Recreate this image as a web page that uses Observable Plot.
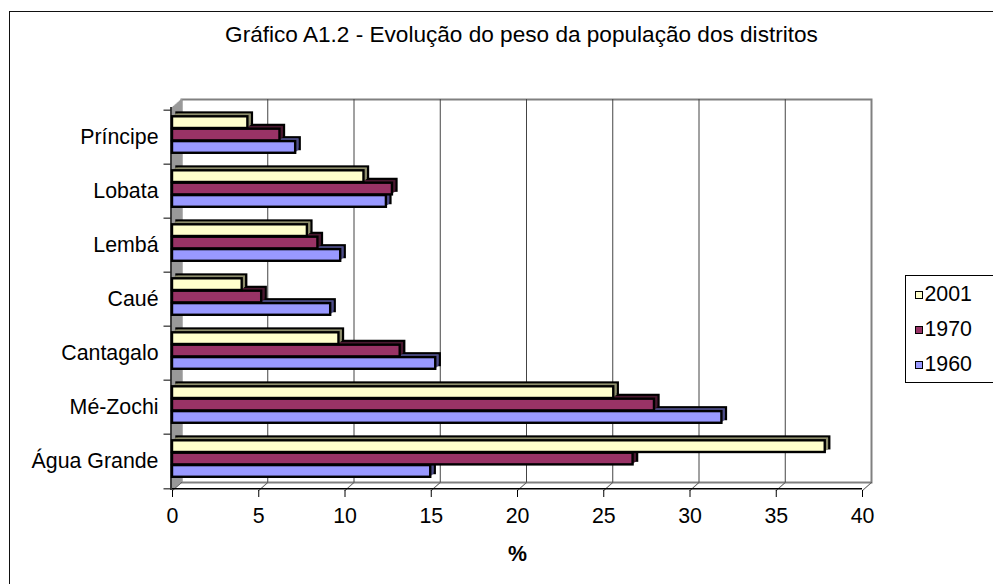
<!DOCTYPE html>
<html><head><meta charset="utf-8">
<script src="https://cdn.jsdelivr.net/npm/d3@7"></script>
<script src="https://cdn.jsdelivr.net/npm/@observablehq/plot@0.6"></script>
<style>
html,body{margin:0;padding:0;background:#fff;}
body{width:993px;height:584px;overflow:hidden;position:relative;font-family:"Liberation Sans",Arial,sans-serif;color:#000;}
#border{position:absolute;left:9px;top:11px;width:1100px;height:700px;border:1.3px solid #111;}
#title{position:absolute;left:0;top:24px;width:1043px;text-align:center;font-size:22.6px;line-height:1;white-space:nowrap;}
#chart{position:absolute;left:0;top:0;}
#legend{position:absolute;left:905px;top:275px;width:120px;height:106px;border:1px solid #000;background:#fff;}
.item{position:absolute;left:9px;height:22px;display:flex;align-items:center;font-size:21.33px;line-height:1;white-space:nowrap;}
.sw{width:8px;height:8px;border:1.5px solid #000;box-sizing:border-box;margin-right:1.5px;}
</style></head>
<body>
<div id="border"></div>
<div id="chart"></div>
<div id="title"></div>
<div id="legend"></div>
<script>
// ---- data ----
const titleText = "Gráfico A1.2 - Evolução do peso da população dos distritos";
const districts = ["Príncipe", "Lobata", "Lembá", "Caué", "Cantagalo", "Mé-Zochi", "Água Grande"];
const years = ["2001", "1970", "1960"];
const values2001 = [4.37, 11.1, 7.82, 4.04, 9.65, 25.58, 37.84];
const values1970 = [6.23, 12.75, 8.43, 5.17, 13.2, 27.94, 26.7];
const values1960 = [7.14, 12.4, 9.75, 9.17, 15.26, 31.85, 14.97];
const xTicks = [0, 5, 10, 15, 20, 25, 30, 35, 40];
const xLabel = "%";

// ---- styles ----
const colors = {"2001": "#FFFFCC", "1970": "#993366", "1960": "#9999FF"};
const sideColors = {"2001": "#8e8e6c", "1970": "#4a1830", "1960": "#4e4e8a"};
const W = 993, H = 584, mL = 172, mR = 131, mT = 107, mB = 94;
const B = (H - mT - mB) / districts.length;
const barTop = 6.3, barStep = 12.4;
const depthX = 4.5, depthY = 3.75;     // bar depth
const wallX = 9, wallY = 8;            // wall depth
const fs = 21.33;
const sw = 2.4;

const series = {"2001": values2001, "1970": values1970, "1960": values1960};
const rows = districts.flatMap((d, i) => years.map(y => ({district: d, year: y, value: series[y][i]})));

const lineShape = {draw(context, l) { context.moveTo(0, 0); context.lineTo(0, -l); }};

const marks = [];
// back wall + gridlines
marks.push(Plot.frame({stroke: "#808080", strokeWidth: 2, dx: wallX, dy: -wallY}));
marks.push(Plot.ruleX(xTicks.slice(1, -1), {stroke: "#444", strokeWidth: 1, dx: wallX, dy: -wallY}));
// left side wall
for (let k = 0; k <= wallX; k++) {
  marks.push(Plot.ruleX([0], {stroke: "#9a9a9a", strokeWidth: 1.6, dx: k, dy: -k * wallY / wallX}));
}
// floor lines
marks.push(Plot.vector(xTicks, {
  x: d => d, frameAnchor: "bottom", length: Math.hypot(wallX, wallY),
  rotate: Math.atan2(wallX, wallY) * 180 / Math.PI, anchor: "start",
  shape: lineShape, stroke: "#555", strokeWidth: 1
}));
// bars, drawn from bottom (1960) to top (2001)
for (const y of ["1960", "1970", "2001"]) {
  const j = years.indexOf(y);
  const data = rows.filter(r => r.year === y);
  const insetTop = barTop + j * barStep;
  const insetBottom = B - barTop - (j + 1) * barStep;
  const common = {x: "value", y: "district", insetTop, insetBottom};
  marks.push(Plot.barX(data, {...common, fill: sideColors[y], stroke: "black", strokeWidth: sw, dx: depthX, dy: -depthY}));
  for (let k = 1; k <= 3; k++) {
    marks.push(Plot.barX(data, {...common, fill: sideColors[y], dx: depthX * k / 4, dy: -depthY * k / 4}));
  }
  marks.push(Plot.barX(data, {...common, fill: colors[y], stroke: "black", strokeWidth: sw}));
}
// axis lines
marks.push(Plot.ruleX([0], {stroke: "black", strokeWidth: 1.5, dx: -1.5}));
marks.push(Plot.ruleY([districts[districts.length - 1]], {y: d => d, x1: 0, x2: 40, dy: B / 2, stroke: "black", strokeWidth: 1.5}));
// axes
marks.push(Plot.axisY({tickSize: 0, tickPadding: 14, fontSize: fs, fill: "black", label: null}));
marks.push(Plot.axisY({tickSize: 7, fill: "none", stroke: "black", dy: -B / 2, dx: -1.5, label: null}));
marks.push(Plot.axisY([districts[districts.length - 1]], {tickSize: 7, fill: "none", stroke: "black", dy: B / 2, dx: -1.5, label: null}));
marks.push(Plot.axisX(xTicks, {tickSize: 7, tickPadding: 10.5, fontSize: fs, fill: "black", stroke: "black", label: null}));
marks.push(Plot.text([xLabel], {text: d => d, frameAnchor: "bottom", dy: 70, fontWeight: "bold", fontSize: fs, fill: "black"}));

const chart = Plot.plot({
  width: W, height: H,
  marginLeft: mL, marginRight: mR, marginTop: mT, marginBottom: mB,
  x: {domain: [0, 40]},
  y: {domain: districts, padding: 0},
  style: {fontFamily: "'Liberation Sans', Arial, sans-serif", fontSize: fs + "px", background: "transparent", color: "black", overflow: "visible"},
  marks
});
document.getElementById("chart").append(chart);
document.getElementById("title").textContent = titleText;

// legend
const legend = document.getElementById("legend");
const centers = [19, 54, 88.5];
years.forEach((y, i) => {
  const it = document.createElement("div");
  it.className = "item";
  it.style.top = (centers[i] - 11) + "px";
  const s = document.createElement("span");
  s.className = "sw";
  s.style.background = colors[y];
  const tx = document.createElement("span");
  tx.textContent = y;
  it.append(s, tx);
  legend.append(it);
});
</script>
</body></html>
